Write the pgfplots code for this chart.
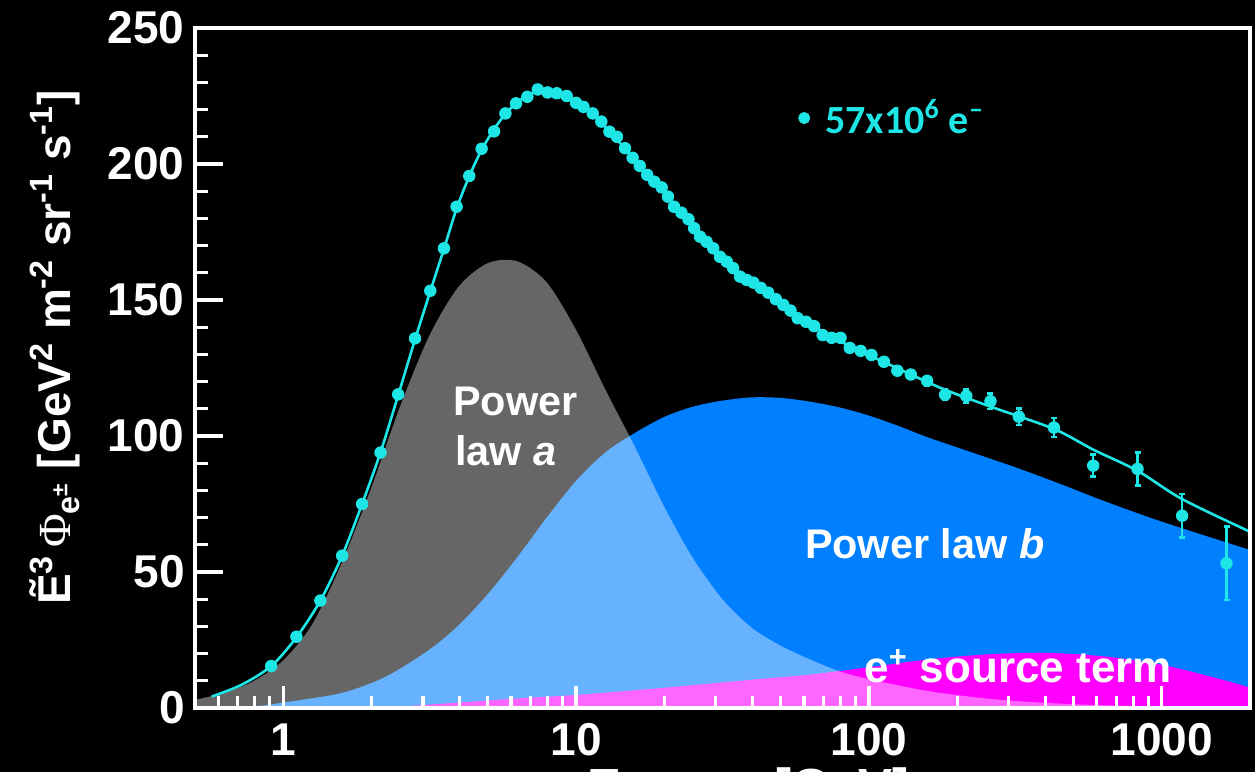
\documentclass[border=0pt]{standalone}
\usepackage{fontspec}
\setmainfont{Liberation Sans}
\newfontfamily\phifont{Liberation Serif}
\newfontfamily\legendfont{Carlito}
\usepackage{pgfplots}
\pgfplotsset{compat=1.18}
\usepackage{pgfplotstable}

\definecolor{fitcyan}{RGB}{30,230,230}
\definecolor{lawb}{RGB}{0,128,255}
\definecolor{srcmag}{RGB}{255,0,255}

% measured electron flux: energy [GeV], E^3 flux, error
\pgfplotstableread{
E F dF
0.91 15.4 0
1.11 26.2 0
1.34 39.5 0
1.59 56.0 0
1.86 75.0 0
2.15 93.9 0
2.47 115.3 0
2.82 135.9 0
3.18 153.4 0
3.54 169.0 0
3.91 184.3 0
4.32 195.6 0
4.76 205.6 0
5.25 212.0 0
5.74 218.6 0
6.24 222.3 0
6.82 224.7 0
7.40 227.4 0
8.00 226.3 0
8.59 226.0 0
9.29 225.0 0
10.0 222.5 0
10.6 221.0 0
11.4 218.6 0
12.2 215.6 0
13.0 211.9 0
13.8 210.0 0
14.7 205.8 0
15.6 202.3 0
16.5 199.3 0
17.5 196.0 0
18.5 193.5 0
19.6 191.4 0
20.6 188.0 0
21.6 184.3 0
22.9 182.1 0
24.2 179.7 0
25.3 176.4 0
26.5 173.3 0
27.9 171.4 0
29.4 169.0 0
31.0 165.9 0
32.7 164.1 0
34.4 161.7 0
36.3 158.6 0
38.2 157.4 0
40.3 156.4 0
42.7 154.5 0
45.3 152.7 0
48.1 150.3 0
51.0 148.2 0
54.0 146.1 0
57.1 143.3 0
61.0 142.0 0
65.0 140.4 0
69.5 137.1 0
74.6 136.1 0.8
80.0 136.1 0.8
86.0 132.4 0.8
93.7 131.3 1.0
102 129.8 1.0
112.5 127.3 1.0
125 124.0 1.2
139 122.6 1.5
158 120.3 1.8
182 115.2 2.0
215 114.7 2.5
260 112.8 2.8
325 107.1 3.0
428 103.1 3.5
583 89.1 4.0
826 87.9 6.0
1173 70.7 8.0
1663 53.2 13.5
}\fluxdata

% total fit
\pgfplotstableread{
E F
0.57 4.2
0.72 8.5
0.91 15.4
1.11 26.0
1.34 39.5
1.59 56.0
1.86 75.0
2.15 94.0
2.47 115.0
2.82 135.5
3.18 153.2
3.54 168.8
3.91 183.6
4.32 195.5
4.76 205.2
5.25 212.8
5.74 218.4
6.24 222.3
6.82 225.2
7.40 226.6
8.00 226.7
8.59 226.0
9.29 224.7
10.0 222.8
11.4 218.2
13.0 212.0
14.7 205.6
16.5 199.3
18.5 193.4
20.6 187.8
22.9 182.2
25.3 176.8
27.9 171.6
31.0 166.2
34.4 161.5
38.2 157.6
42.7 154.0
48.1 150.3
54.0 146.4
61.0 142.3
69.5 138.4
80.0 134.8
93.7 131.0
112.5 127.2
139 122.6
182 117.0
260 110.8
428 102.6
583 95.0
826 87.2
1173 76.8
2000 64.8
}\fitdata

% power law a
\pgfplotstableread{
E F
0.50 3.0
0.63 5.6
0.79 9.8
1.00 17.5
1.26 31
1.58 53
2.00 81
2.51 111
3.16 137
3.98 155
5.01 163.6
6.31 164.2
7.94 156.5
10.0 139
12.6 117
15.8 96.5
20.0 74
25.1 55
31.6 40
39.8 29.5
50.1 22.8
63.1 17.8
79.4 13.5
100 10.6
158 6.3
251 3.5
398 1.9
631 1.0
1000 0.5
2000 0.15
}\lawa

% power law b
\pgfplotstableread{
E F
0.50 0
0.79 0.6
1.00 2.0
1.58 5.5
2.24 11.5
3.16 21.5
3.98 30.5
5.01 42
6.31 55.5
7.94 70
10.0 83.5
12.6 94
15.8 101
20.0 107
25.1 110.8
31.6 113
39.8 114.2
50.1 114
63.1 112.6
79.4 110.5
100 107.5
126 103.7
158 99.6
224 94
316 88.5
447 82.5
631 76.2
1000 68.5
2000 58.1
}\lawb

% positron source term
\pgfplotstableread{
E F
1.58 0
2.51 0.6
3.98 2.0
6.31 3.5
10.0 4.8
15.8 6.5
25.1 8.4
39.8 10.4
63.1 12.3
100 15.0
158 17.8
251 19.7
398 20.3
631 19.0
1000 15.9
1585 10.6
2000 7.5
}\source

\begin{document}
\begin{tikzpicture}
\useasboundingbox (-97.5pt,-32pt) rectangle (530pt,354pt);
\fill[black] (-97.5pt,-32pt) rectangle (530pt,354pt);
\clip (-97.5pt,-32pt) rectangle (530pt,354pt);
\begin{axis}[
  at={(0pt,0pt)}, anchor=south west,
  scale only axis, width=527.5pt, height=340pt,
  xmode=log, xmin=0.5, xmax=2000, ymin=0, ymax=250,
  axis on top,
  axis line style={white, line width=1.8pt},
  tick align=inside, tick pos=left,
  tick style={white, line width=1.6pt},
  major tick length=14pt, minor tick length=6.5pt,
  xtick style={/pgfplots/major tick length=11pt, /pgfplots/minor tick length=6pt},
  xtick={1,10,100,1000}, xticklabels={1,10,100,1000},
  minor xtick={0.6,0.7,0.8,0.9,2,3,4,5,6,7,8,9,20,30,40,50,60,70,80,90,200,300,400,500,600,700,800,900},
  ytick={0,50,100,150,200,250},
  minor y tick num=4,
  /pgf/number format/assume math mode=true,
  ticklabel style={font=\bfseries\fontsize{23}{23}\selectfont, text=white},
  yticklabel style={inner sep=0pt, xshift=-5pt},
  xticklabel style={inner sep=0pt, yshift=-7.5pt},
  xlabel={Energy [GeV]},
  xlabel style={at={(axis description cs:0.525,-0.1412)}, anchor=base,
    font=\bfseries\fontsize{25.4}{26}\selectfont, text=white},
  ylabel={\~{E}\textsuperscript{3}\,{\mdseries\phifont Φ}\textsubscript{e\textsuperscript{±}} [GeV\textsuperscript{2} m\textsuperscript{-2} sr\textsuperscript{-1} s\textsuperscript{-1}]},
  ylabel style={at={(axis description cs:-0.1327,0.530)}, anchor=center,
    font=\bfseries\fontsize{23}{24}\selectfont, text=white},
  legend style={at={(axis description cs:0.5714,0.8676)}, anchor=west,
    draw=none, fill=none, inner sep=0pt, text=fitcyan,
    font=\legendfont\bfseries\fontsize{20}{22}\selectfont,
    nodes={inner sep=0pt}, /tikz/column sep=0pt},
  legend image code/.code={\fill[fitcyan] (0pt,0pt) circle (2.8pt); \path[draw=none, fill=none] (0pt,0pt) -- (10.5pt,0pt);},
]
% components: b and source opaque, a as a translucent white veil
\addplot[forget plot, draw=none, fill=lawb, smooth] table[x=E,y=F] {\lawb} \closedcycle;
\addplot[forget plot, draw=none, fill=srcmag, smooth] table[x=E,y=F] {\source} \closedcycle;
\addplot[forget plot, draw=none, fill=white, fill opacity=0.4, smooth] table[x=E,y=F] {\lawa} \closedcycle;

% fit and data
\addplot[forget plot, fitcyan, line width=1.3pt, smooth, no marks] table[x=E,y=F] {\fitdata};
\addplot[only marks, mark=*, mark size=2.9pt, fitcyan,
  error bars/.cd, y dir=both, y explicit,
  error bar style={line width=1.3pt, fitcyan},
  error mark options={rotate=90, mark size=1.5pt, line width=1.3pt, fitcyan}]
  table[x=E,y=F,y error=dF] {\fluxdata};
\addlegendentry{57x10\textsuperscript{6} e\textsuperscript{–}}

\node[anchor=base west, text=white, font=\bfseries\fontsize{20.7}{25}\selectfont] at (axis cs:3.60,107.4) {Power};
\node[anchor=base west, text=white, font=\bfseries\fontsize{20.7}{25}\selectfont] at (axis cs:3.66,89.0) {law \textit{a}};
\node[anchor=base, text=white, font=\bfseries\fontsize{20.7}{25}\selectfont] at (axis cs:155,54.8) {Power law \textit{b}};
\node[anchor=base, text=white, font=\bfseries\fontsize{22}{25}\selectfont] at (axis cs:323,9.2) {e\textsuperscript{+} source term};
\end{axis}
\end{tikzpicture}
\end{document}
